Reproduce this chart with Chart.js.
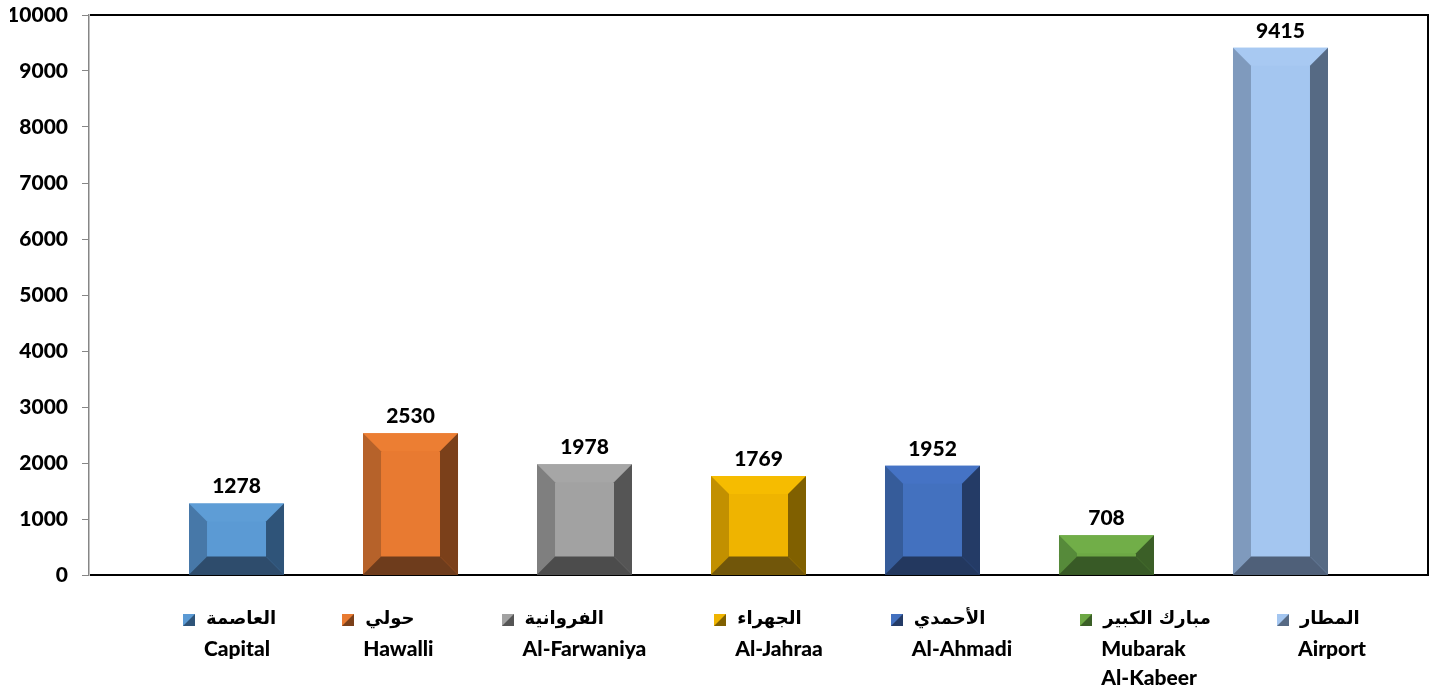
<!DOCTYPE html>
<html>
<head>
<meta charset="utf-8">
<script src="https://cdn.jsdelivr.net/npm/chart.js@4/dist/chart.umd.min.js"></script>
<style>
html,body{margin:0;padding:0;background:#ffffff;}
#wrap{width:1438px;height:689px;position:relative;}
</style>
</head>
<body>
<div id="wrap"><canvas id="c"></canvas></div>
<script>
// ---- data ----
const categories = [''];
const seriesArabic = ['العاصمة', 'حولي', 'الفروانية', 'الجهراء', 'الأحمدي', 'مبارك الكبير', 'المطار'];
const seriesEnglish = [['Capital'], ['Hawalli'], ['Al-Farwaniya'], ['Al-Jahraa'], ['Al-Ahmadi'], ['Mubarak', 'Al-Kabeer'], ['Airport']];
const seriesValues = [1278, 2530, 1978, 1769, 1952, 708, 9415];
const yTickMin = 0;
const yTickMax = 10000;
const yTickStep = 1000;

// ---- styles ----
const faceColors   = ['#5B9AD4', '#E87A31', '#A2A2A2', '#EFB400', '#4371BF', '#6DA845', '#A4C6F0'];
const topColors    = ['#5E9DD6', '#EC7E33', '#A6A6A6', '#F6BC00', '#4573C5', '#71AE48', '#A8C9F2'];
const leftColors   = ['#4778A8', '#B6622A', '#7F7F7F', '#C29000', '#365C9A', '#568A3A', '#7F9ABD'];
const rightColors  = ['#2F5479', '#7B401A', '#555555', '#806000', '#243B66', '#3B5F27', '#566A84'];
const bottomColors = ['#2E4C6C', '#6E3C1C', '#4C4C4C', '#71560A', '#23385F', '#385A26', '#4F6079'];

const FONT = 'Lato, "DejaVu Sans", sans-serif';
const AR_FONT = '"DejaVu Sans", sans-serif';

const datasets = seriesArabic.map((name, i) => ({
  label: name,
  data: [seriesValues[i]],
  backgroundColor: faceColors[i],
  borderWidth: 0
}));

function poly(ctx, pts, color) {
  ctx.beginPath();
  ctx.moveTo(pts[0][0], pts[0][1]);
  for (let k = 1; k < pts.length; k++) ctx.lineTo(pts[k][0], pts[k][1]);
  ctx.closePath();
  ctx.fillStyle = color;
  ctx.fill();
}

const framePlugin = {
  id: 'frame',
  beforeDatasetsDraw(chart) {
    const {ctx, chartArea: a} = chart;
    ctx.save();
    ctx.strokeStyle = '#000000';
    ctx.lineWidth = 2;
    ctx.beginPath();
    ctx.moveTo(a.left + 1, a.top);
    ctx.lineTo(a.right, a.top);
    ctx.lineTo(a.right, a.bottom);
    ctx.lineTo(a.left + 1, a.bottom);
    ctx.stroke();
    ctx.restore();
  }
};

const bevelPlugin = {
  id: 'bevel',
  afterDatasetsDraw(chart) {
    const ctx = chart.ctx;
    ctx.save();
    chart.data.datasets.forEach((ds, i) => {
      const meta = chart.getDatasetMeta(i);
      meta.data.forEach(bar => {
        const p = bar.getProps(['x', 'y', 'base', 'width'], true);
        const L = p.x - p.width / 2, R = p.x + p.width / 2;
        const T = Math.min(p.y, p.base), B = Math.max(p.y, p.base);
        const b = Math.min(18, (B - T) / 2, p.width / 2);
        poly(ctx, [[L, T], [R, T], [R - b, T + b], [L + b, T + b]], topColors[i]);
        poly(ctx, [[L, T], [L + b, T + b], [L + b, B - b], [L, B]], leftColors[i]);
        poly(ctx, [[R, T], [R, B], [R - b, B - b], [R - b, T + b]], rightColors[i]);
        poly(ctx, [[L, B], [L + b, B - b], [R - b, B - b], [R, B]], bottomColors[i]);
        // value label
        ctx.fillStyle = '#000000';
        ctx.font = '900 21px ' + FONT;
        ctx.textAlign = 'center';
        ctx.textBaseline = 'alphabetic';
        ctx.fillText(String(ds.data[0]), p.x, T - 10);
      });
    });
    ctx.restore();
  }
};

const legendPlugin = {
  id: 'bottomLegend',
  afterDraw(chart) {
    const {ctx, chartArea: a} = chart;
    ctx.save();
    ctx.direction = 'ltr';
    const arFont = 'bold 18px ' + AR_FONT;
    const enFont = '900 21px ' + FONT;
    const box = 12, boxGap = 9, itemGap = 68, lineH = 29;
    const items = chart.data.datasets.map((ds, i) => {
      ctx.font = arFont;
      let tw = ctx.measureText(ds.label).width;
      ctx.font = enFont;
      seriesEnglish[i].forEach(t => { tw = Math.max(tw, ctx.measureText(t).width); });
      return {ar: ds.label, en: seriesEnglish[i], w: box + boxGap + tw, i};
    });
    const total = items.reduce((s, it) => s + it.w, 0) + itemGap * (items.length - 1);
    let x = (a.left + a.right) / 2 + 16 - total / 2;
    const y0 = a.bottom + 45;
    items.forEach(it => {
      const bx = Math.round(x), by = Math.round(y0 - box / 2);
      ctx.fillStyle = faceColors[it.i];
      ctx.fillRect(bx, by, box, box);
      poly(ctx, [[bx + box, by], [bx + box, by + box], [bx, by + box]], rightColors[it.i]);
      ctx.fillStyle = '#000000';
      ctx.textAlign = 'left';
      ctx.textBaseline = 'middle';
      ctx.font = arFont;
      ctx.fillText(it.ar, x + box + boxGap + 2, y0 - 1);
      ctx.font = enFont;
      it.en.forEach((t, k) => {
        ctx.fillText(t, x + box + boxGap, y0 + (k + 1) * lineH);
      });
      x += it.w + itemGap;
    });
    ctx.restore();
  }
};

new Chart(document.getElementById('c'), {
  type: 'bar',
  data: {labels: categories, datasets},
  options: {
    responsive: true,
    maintainAspectRatio: false,
    animation: false,
    layout: {padding: {left: 10, right: 10, top: 15, bottom: 114}},
    datasets: {bar: {categoryPercentage: 0.9096, barPercentage: 0.546}},
    plugins: {legend: {display: false}, tooltip: {enabled: false}},
    scales: {
      x: {display: false},
      y: {
        min: yTickMin,
        max: yTickMax,
        afterFit(scale) { scale.width = 79; scale.paddingTop = 0; scale.paddingBottom = 0; },
        ticks: {
          stepSize: yTickStep, padding: 14, color: '#000000',
          font: {family: FONT, size: 21, weight: '900'},
          callback: v => String(v)
        },
        grid: {drawOnChartArea: false, tickLength: 7, color: '#868686', lineWidth: 1},
        border: {color: '#868686', width: 1.5}
      }
    }
  },
  plugins: [framePlugin, bevelPlugin, legendPlugin]
});
</script>
</body>
</html>
